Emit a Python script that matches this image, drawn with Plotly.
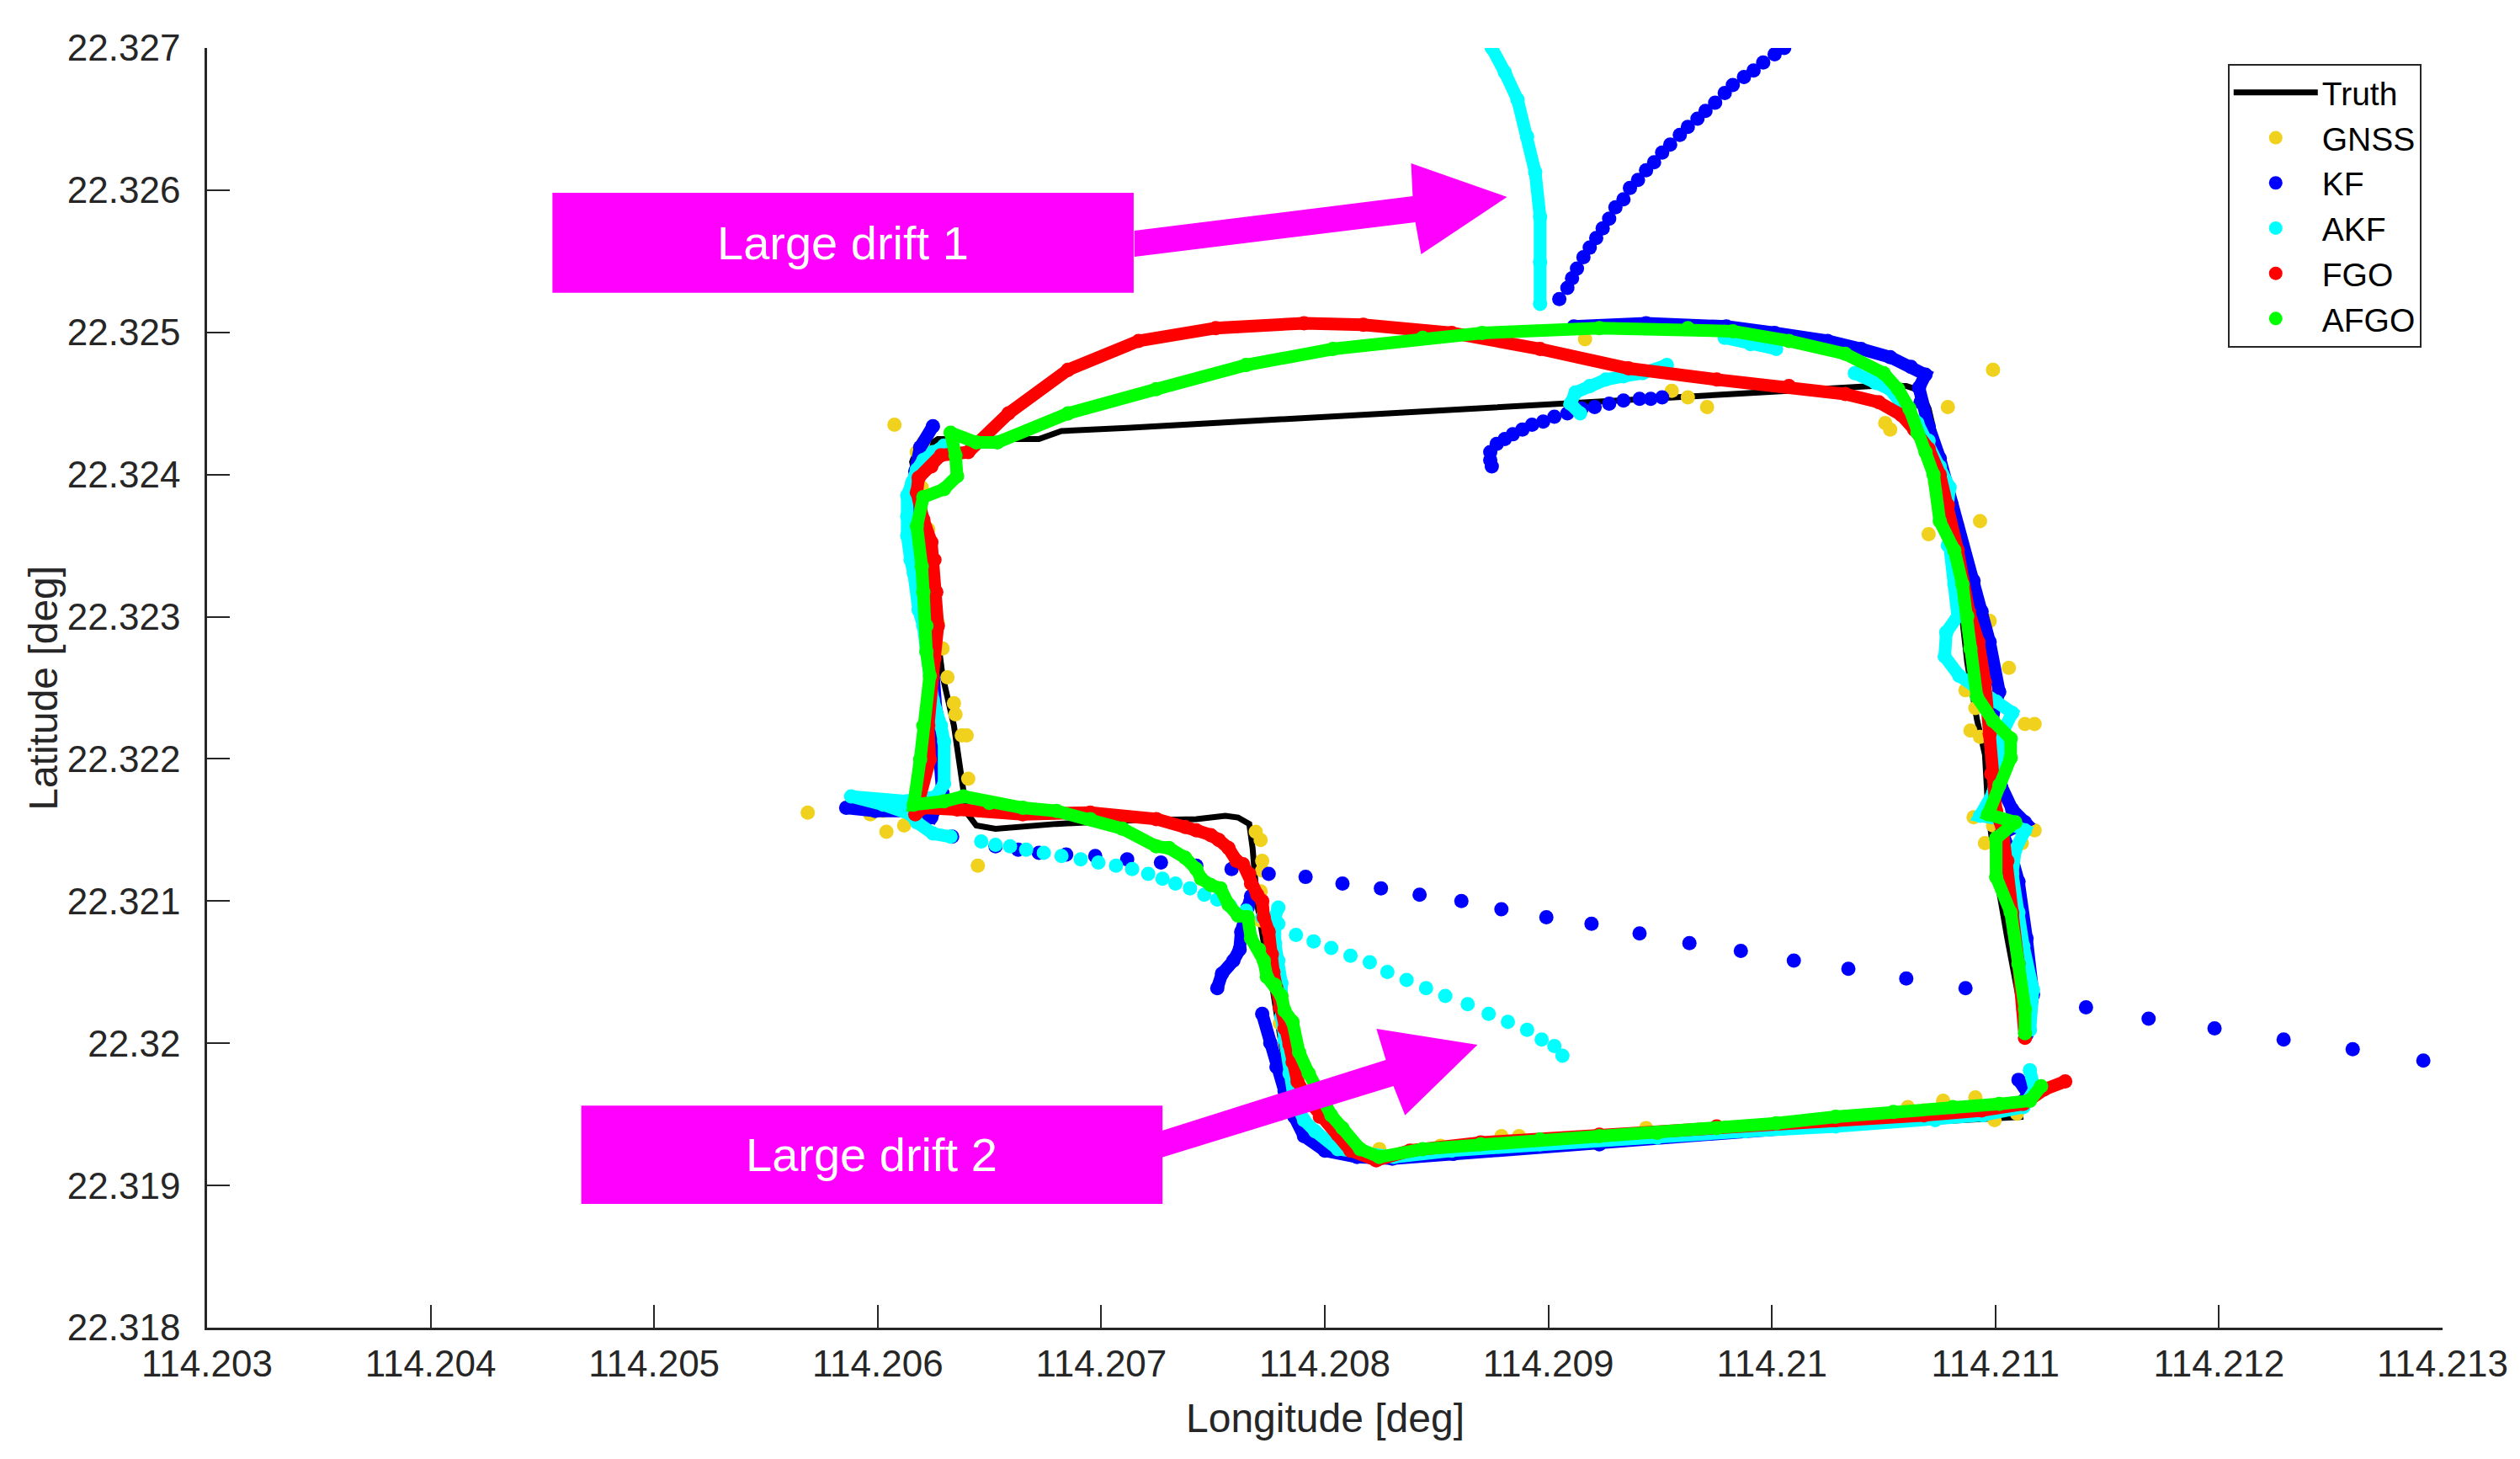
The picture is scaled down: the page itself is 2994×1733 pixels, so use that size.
import plotly.graph_objects as go

FONT = "Liberation Sans, Arial, Helvetica, sans-serif"
AXIS_C = "#262626"

lon_ticks = [114.203, 114.204, 114.205, 114.206, 114.207, 114.208, 114.209, 114.210, 114.211, 114.212, 114.213]
lon_tick_labels = ["114.203", "114.204", "114.205", "114.206", "114.207", "114.208", "114.209", "114.21", "114.211", "114.212", "114.213"]
lat_ticks = [22.318, 22.319, 22.320, 22.321, 22.322, 22.323, 22.324, 22.325, 22.326, 22.327]
lat_tick_labels = ["22.318", "22.319", "22.32", "22.321", "22.322", "22.323", "22.324", "22.325", "22.326", "22.327"]

# (lon, lat)
truth_path = [
    (114.211125, 22.319483), (114.210730, 22.319449), (114.210011, 22.319403), (114.209228, 22.319313),
    (114.208568, 22.319234), (114.208244, 22.319211), (114.208036, 22.319245), (114.207907, 22.319324),
    (114.207864, 22.319483), (114.207806, 22.319992), (114.207763, 22.320422), (114.207727, 22.320705),
    (114.207698, 22.320977), (114.207677, 22.321373), (114.207662, 22.321543), (114.207612, 22.321588),
    (114.207555, 22.321600), (114.207425, 22.321577), (114.207095, 22.321566), (114.206800, 22.321543),
    (114.206527, 22.321509), (114.206441, 22.321532), (114.206398, 22.321622), (114.206384, 22.321770),
    (114.206341, 22.322234), (114.206290, 22.322585), (114.206261, 22.322936), (114.206233, 22.323309),
    (114.206204, 22.323638), (114.206175, 22.323921), (114.206154, 22.324090), (114.206168, 22.324147),
    (114.206269, 22.324249), (114.206455, 22.324249), (114.206721, 22.324249), (114.206822, 22.324306),
    (114.207116, 22.324328), (114.209825, 22.324566), (114.210198, 22.324600), (114.210450, 22.324623),
    (114.210601, 22.324623), (114.210665, 22.324589), (114.210701, 22.324464), (114.210716, 22.324362),
    (114.210751, 22.324056), (114.210802, 22.323762), (114.210830, 22.323468), (114.210838, 22.323173),
    (114.210852, 22.322981), (114.210874, 22.322675), (114.210917, 22.322279), (114.210953, 22.322030),
    (114.210967, 22.321645), (114.211003, 22.321192), (114.211053, 22.320739), (114.211103, 22.320287),
    (114.211132, 22.320083),
]

gnss_fixes = [
    (114.205687, 22.321622), (114.205967, 22.321611), (114.206024, 22.321634), (114.206039, 22.321487),
    (114.206118, 22.321532), (114.206448, 22.321249), (114.206075, 22.324351), (114.206175, 22.324158),
    (114.206204, 22.324226), (114.206197, 22.323909), (114.206226, 22.323615), (114.206233, 22.323423),
    (114.206254, 22.323151), (114.206269, 22.322958), (114.206290, 22.322777), (114.206312, 22.322574),
    (114.206341, 22.322392), (114.206348, 22.322313), (114.206376, 22.322166), (114.206398, 22.322166),
    (114.206405, 22.321860), (114.206269, 22.321962), (114.207691, 22.321487), (114.207713, 22.321430),
    (114.207720, 22.321283), (114.207720, 22.321215), (114.207713, 22.321068), (114.207713, 22.320864),
    (114.207799, 22.320140), (114.208244, 22.319256), (114.208517, 22.319279), (114.208790, 22.319347),
    (114.208869, 22.319347), (114.209013, 22.319324), (114.209200, 22.319336), (114.209437, 22.319404),
    (114.210450, 22.319494), (114.210608, 22.319551), (114.210680, 22.319528), (114.210766, 22.319596),
    (114.210910, 22.319619), (114.210996, 22.319460), (114.211096, 22.319506), (114.209164, 22.324951),
    (114.209552, 22.324589), (114.209624, 22.324543), (114.209710, 22.324475), (114.210989, 22.324736),
    (114.210787, 22.324475), (114.210507, 22.324362), (114.210529, 22.324317), (114.210672, 22.324509),
    (114.210730, 22.323943), (114.210931, 22.323672), (114.210831, 22.323638), (114.210701, 22.323581),
    (114.210974, 22.322970), (114.211060, 22.322641), (114.210866, 22.322483), (114.210910, 22.322358),
    (114.210888, 22.322200), (114.211132, 22.322245), (114.211175, 22.322245), (114.210931, 22.322155),
    (114.210902, 22.321589), (114.211175, 22.321498), (114.210953, 22.321407), (114.211118, 22.321407),
    (114.210989, 22.321532),
]

# KF
kf_east_north = [
    (114.211139, 22.320060), (114.211168, 22.320343), (114.211139, 22.320739), (114.211103, 22.321136),
    (114.211068, 22.321339), (114.211032, 22.321475), (114.211132, 22.321554), (114.211075, 22.321645),
    (114.211024, 22.321815), (114.210989, 22.322098), (114.210989, 22.322324), (114.211017, 22.322472),
    (114.210974, 22.322822), (114.210938, 22.323038), (114.210902, 22.323253), (114.210802, 22.323796),
    (114.210751, 22.324113), (114.210701, 22.324340), (114.210665, 22.324509), (114.210658, 22.324611),
    (114.210687, 22.324702), (114.210622, 22.324758), (114.210529, 22.324826), (114.210399, 22.324883),
    (114.210249, 22.324940), (114.210012, 22.324996), (114.209796, 22.325041), (114.209437, 22.325064),
    (114.209114, 22.325041),
]
kf_drift_1 = [
    (114.209049, 22.325234), (114.209085, 22.325313), (114.209106, 22.325381), (114.209128, 22.325449),
    (114.209157, 22.325528), (114.209185, 22.325596), (114.209214, 22.325664), (114.209243, 22.325732),
    (114.209272, 22.325800), (114.209300, 22.325879), (114.209336, 22.325936), (114.209365, 22.326015),
    (114.209401, 22.326072), (114.209437, 22.326140), (114.209473, 22.326196), (114.209509, 22.326264),
    (114.209545, 22.326321), (114.209588, 22.326389), (114.209624, 22.326445), (114.209667, 22.326502),
    (114.209703, 22.326558), (114.209746, 22.326615), (114.209789, 22.326683), (114.209825, 22.326740),
    (114.209875, 22.326796), (114.209918, 22.326842), (114.209961, 22.326898), (114.210012, 22.326955),
    (114.210055, 22.327000),
]
kf_reset_arc = [
    (114.209509, 22.324543), (114.209458, 22.324532), (114.209408, 22.324532), (114.209336, 22.324521),
    (114.209272, 22.324498), (114.209207, 22.324475), (114.209149, 22.324464), (114.209085, 22.324430),
    (114.209027, 22.324407), (114.208977, 22.324373), (114.208927, 22.324351), (114.208884, 22.324317),
    (114.208841, 22.324283), (114.208805, 22.324249), (114.208769, 22.324215), (114.208740, 22.324158),
    (114.208740, 22.324102), (114.208747, 22.324057),
]
kf_west = [
    (114.206247, 22.324340), (114.206190, 22.324192), (114.206168, 22.324023), (114.206190, 22.323683),
    (114.206218, 22.323230), (114.206240, 22.322777), (114.206262, 22.322324), (114.206283, 22.321985),
    (114.206290, 22.321758), (114.206240, 22.321589), (114.206132, 22.321634), (114.205989, 22.321634),
    (114.205859, 22.321656),
]
kf_drift_2 = [
    (114.206333, 22.321453), (114.206527, 22.321385), (114.206628, 22.321362), (114.206721, 22.321339),
    (114.206843, 22.321328), (114.206973, 22.321317), (114.207116, 22.321294), (114.207267, 22.321271),
    (114.207425, 22.321249), (114.207583, 22.321226), (114.207749, 22.321192), (114.207914, 22.321170),
    (114.208079, 22.321124), (114.208251, 22.321090), (114.208424, 22.321045), (114.208611, 22.321000),
    (114.208790, 22.320943), (114.208991, 22.320887), (114.209193, 22.320841), (114.209408, 22.320773),
    (114.209631, 22.320705), (114.209861, 22.320649), (114.210098, 22.320581), (114.210342, 22.320524),
    (114.210601, 22.320456), (114.210866, 22.320388), (114.211132, 22.320320), (114.211405, 22.320253),
    (114.211685, 22.320173), (114.211980, 22.320105), (114.212289, 22.320026), (114.212598, 22.319958),
    (114.212914, 22.319879),
]
kf_mid = [
    (114.207670, 22.321034), (114.207655, 22.320955), (114.207641, 22.320898), (114.207626, 22.320785),
    (114.207619, 22.320660), (114.207591, 22.320581), (114.207540, 22.320490), (114.207519, 22.320388),
]
kf_south = [
    (114.207720, 22.320207), (114.207756, 22.320003), (114.207784, 22.319834), (114.207820, 22.319664),
    (114.207864, 22.319483), (114.207907, 22.319347), (114.208000, 22.319245), (114.208144, 22.319200),
    (114.208302, 22.319188), (114.208575, 22.319222), (114.209228, 22.319290), (114.209753, 22.319370),
    (114.210285, 22.319426), (114.210680, 22.319471), (114.210938, 22.319505), (114.211103, 22.319562),
    (114.211147, 22.319641), (114.211103, 22.319743),
]

# AKF
akf_east = [
    (114.211154, 22.320094), (114.211168, 22.320377), (114.211125, 22.320683), (114.211103, 22.320921),
    (114.211075, 22.321192), (114.211089, 22.321362), (114.211132, 22.321498), (114.211017, 22.321577),
    (114.210931, 22.321600), (114.210989, 22.321758), (114.211017, 22.321985), (114.211032, 22.322188),
    (114.211075, 22.322324), (114.211003, 22.322404), (114.210931, 22.322494), (114.210838, 22.322585),
    (114.210773, 22.322721), (114.210780, 22.322890), (114.210831, 22.323004), (114.210816, 22.323230),
    (114.210787, 22.323502), (114.210780, 22.323706), (114.210795, 22.323909), (114.210751, 22.324056),
    (114.210701, 22.324238), (114.210651, 22.324362), (114.210579, 22.324498), (114.210529, 22.324600),
    (114.210464, 22.324645), (114.210371, 22.324713),
]
akf_north = [(114.210019, 22.324883), (114.209904, 22.324917), (114.209789, 22.324962)]
akf_drift_1 = [
    (114.208963, 22.325200), (114.208963, 22.325494), (114.208963, 22.325811), (114.208941, 22.326128),
    (114.208905, 22.326377), (114.208862, 22.326638), (114.208805, 22.326830), (114.208747, 22.327000),
]
akf_reset_arc = [
    (114.209142, 22.324430), (114.209099, 22.324498), (114.209121, 22.324577), (114.209185, 22.324622),
    (114.209257, 22.324668), (114.209336, 22.324691), (114.209422, 22.324713), (114.209530, 22.324770),
]
akf_west = [
    (114.206297, 22.324204), (114.206247, 22.324158), (114.206204, 22.324102), (114.206175, 22.324034),
    (114.206154, 22.323943), (114.206132, 22.323853), (114.206132, 22.323706), (114.206132, 22.323570),
    (114.206147, 22.323400), (114.206161, 22.323309), (114.206183, 22.323049), (114.206204, 22.322936),
    (114.206218, 22.322754), (114.206247, 22.322415), (114.206283, 22.322234), (114.206297, 22.322121),
    (114.206297, 22.321826), (114.206262, 22.321736), (114.206132, 22.321702), (114.205989, 22.321713),
    (114.205881, 22.321736), (114.206024, 22.321679), (114.206147, 22.321611), (114.206175, 22.321554),
    (114.206247, 22.321475), (114.206326, 22.321453),
]
akf_drift_2 = [
    (114.206463, 22.321419), (114.206527, 22.321396), (114.206592, 22.321385), (114.206664, 22.321362),
    (114.206743, 22.321339), (114.206822, 22.321317), (114.206908, 22.321294), (114.206987, 22.321271),
    (114.207066, 22.321249), (114.207138, 22.321226), (114.207210, 22.321192), (114.207274, 22.321158),
    (114.207332, 22.321124), (114.207397, 22.321090), (114.207461, 22.321045), (114.207519, 22.321011),
    (114.207576, 22.320966), (114.207648, 22.320932), (114.207720, 22.320887), (114.207792, 22.320841),
    (114.207871, 22.320762), (114.207950, 22.320717), (114.208029, 22.320671), (114.208115, 22.320615),
    (114.208201, 22.320570), (114.208280, 22.320502), (114.208366, 22.320445), (114.208453, 22.320388),
    (114.208539, 22.320333), (114.208639, 22.320275), (114.208733, 22.320207), (114.208819, 22.320151),
    (114.208905, 22.320094), (114.208970, 22.320026), (114.209027, 22.319981), (114.209063, 22.319913),
]
akf_south = [
    (114.207792, 22.320955), (114.207777, 22.320887), (114.207777, 22.320705), (114.207792, 22.320581),
    (114.207806, 22.320422), (114.207806, 22.320185), (114.207820, 22.320026), (114.207842, 22.319788),
    (114.207864, 22.319596), (114.207907, 22.319460), (114.207957, 22.319381), (114.208058, 22.319256),
    (114.208180, 22.319222), (114.208309, 22.319200), (114.208568, 22.319245), (114.208963, 22.319290),
    (114.209487, 22.319336), (114.209882, 22.319381), (114.210285, 22.319415), (114.210730, 22.319460),
    (114.210945, 22.319494), (114.211125, 22.319551), (114.211175, 22.319675), (114.211154, 22.319811),
]

# FGO
fgo_path = [
    (114.211312, 22.319732), (114.211218, 22.319675), (114.211125, 22.319573), (114.210938, 22.319528),
    (114.210680, 22.319494), (114.210285, 22.319460), (114.209753, 22.319415), (114.209228, 22.319358),
    (114.208697, 22.319302), (114.208381, 22.319245), (114.208230, 22.319177), (114.208115, 22.319245),
    (114.208058, 22.319358), (114.207978, 22.319483), (114.207928, 22.319596), (114.207878, 22.319732),
    (114.207856, 22.319868), (114.207842, 22.319992), (114.207820, 22.320105), (114.207799, 22.320253),
    (114.207784, 22.320388), (114.207770, 22.320502), (114.207763, 22.320626), (114.207749, 22.320785),
    (114.207727, 22.320887), (114.207720, 22.321000), (114.207698, 22.321045), (114.207670, 22.321124),
    (114.207662, 22.321192), (114.207634, 22.321260), (114.207605, 22.321283), (114.207569, 22.321373),
    (114.207526, 22.321430), (114.207490, 22.321464), (114.207425, 22.321498), (114.207375, 22.321521),
    (114.207246, 22.321577), (114.206951, 22.321622), (114.206649, 22.321611), (114.206355, 22.321645),
    (114.206204, 22.321656), (114.206168, 22.321611), (114.206233, 22.321996), (114.206226, 22.322234),
    (114.206233, 22.322472), (114.206254, 22.322709), (114.206269, 22.322936), (114.206262, 22.323173),
    (114.206254, 22.323400), (114.206240, 22.323524), (114.206204, 22.323683), (114.206175, 22.323875),
    (114.206183, 22.323977), (114.206240, 22.324057), (114.206283, 22.324136), (114.206405, 22.324158),
    (114.206585, 22.324430), (114.206851, 22.324736), (114.207167, 22.324940), (114.207512, 22.325030),
    (114.207907, 22.325064), (114.208172, 22.325053), (114.208568, 22.324996), (114.208963, 22.324883),
    (114.209358, 22.324747), (114.209753, 22.324668), (114.210076, 22.324622), (114.210328, 22.324566),
    (114.210478, 22.324509), (114.210579, 22.324419), (114.210637, 22.324317), (114.210701, 22.324181),
    (114.210751, 22.324000), (114.210787, 22.323785), (114.210831, 22.323468), (114.210881, 22.323038),
    (114.210924, 22.322822), (114.210953, 22.322539), (114.210974, 22.322177), (114.210981, 22.321894),
    (114.211003, 22.321634), (114.211032, 22.321498), (114.211053, 22.321283), (114.211075, 22.320921),
    (114.211103, 22.320558), (114.211125, 22.320241), (114.211132, 22.320038),
]

# AFGO
afgo_path = [
    (114.211204, 22.319698), (114.211154, 22.319596), (114.211017, 22.319573), (114.210809, 22.319551),
    (114.210543, 22.319517), (114.210285, 22.319483), (114.210019, 22.319437), (114.209753, 22.319403),
    (114.209487, 22.319370), (114.209228, 22.319347), (114.208963, 22.319324), (114.208697, 22.319290),
    (114.208438, 22.319256), (114.208244, 22.319200), (114.208158, 22.319256), (114.208079, 22.319403),
    (114.208029, 22.319494), (114.207928, 22.319788), (114.207885, 22.319936), (114.207856, 22.320151),
    (114.207820, 22.320230), (114.207806, 22.320333), (114.207777, 22.320411), (114.207741, 22.320468),
    (114.207727, 22.320581), (114.207706, 22.320660), (114.207670, 22.320739), (114.207655, 22.320887),
    (114.207612, 22.320898), (114.207569, 22.320977), (114.207533, 22.321090), (114.207490, 22.321113),
    (114.207447, 22.321158), (114.207425, 22.321226), (114.207375, 22.321305), (114.207303, 22.321373),
    (114.207246, 22.321385), (114.207095, 22.321509), (114.206951, 22.321577), (114.206800, 22.321634),
    (114.206649, 22.321656), (114.206499, 22.321690), (114.206384, 22.321736), (114.206297, 22.321702),
    (114.206161, 22.321679), (114.206190, 22.321996), (114.206204, 22.322234), (114.206233, 22.322585),
    (114.206218, 22.322754), (114.206218, 22.322936), (114.206204, 22.323173), (114.206197, 22.323355),
    (114.206175, 22.323638), (114.206204, 22.323841), (114.206297, 22.323898), (114.206355, 22.323989),
    (114.206348, 22.324136), (114.206326, 22.324294), (114.206441, 22.324226), (114.206535, 22.324226),
    (114.206851, 22.324430), (114.207246, 22.324600), (114.207648, 22.324770), (114.208036, 22.324883),
    (114.208438, 22.324962), (114.208704, 22.324996), (114.209228, 22.325030), (114.209624, 22.325030),
    (114.209825, 22.325008), (114.210076, 22.324940), (114.210328, 22.324849), (114.210500, 22.324713),
    (114.210565, 22.324600), (114.210615, 22.324464), (114.210651, 22.324294), (114.210687, 22.324158),
    (114.210723, 22.324000), (114.210751, 22.323672), (114.210816, 22.323468), (114.210852, 22.323230),
    (114.210874, 22.323004), (114.210888, 22.322777), (114.210917, 22.322438), (114.210989, 22.322268),
    (114.211068, 22.322143), (114.211068, 22.322007), (114.211017, 22.321815), (114.210967, 22.321611),
    (114.211089, 22.321554), (114.211003, 22.321441), (114.211003, 22.321170), (114.211068, 22.320921),
    (114.211103, 22.320558), (114.211132, 22.320241), (114.211132, 22.320071),
]

drift_notes = ["Large drift 1", "Large drift 2"]


def join(segments):
    xs, ys = [], []
    for seg in segments:
        if xs:
            xs.append(None)
            ys.append(None)
        xs += [p[0] for p in seg]
        ys += [p[1] for p in seg]
    return xs, ys


DOT = 17
TRAIL = 15

fig = go.Figure()

fig.add_trace(go.Scatter(
    x=[p[0] for p in truth_path], y=[p[1] for p in truth_path],
    mode="lines", line=dict(color="black", width=7), name="Truth"))

fig.add_trace(go.Scatter(
    x=[p[0] for p in gnss_fixes], y=[p[1] for p in gnss_fixes],
    mode="markers", marker=dict(color="#F0D21E", size=DOT, line=dict(width=0)), name="GNSS"))

series = [
    ("KF", "#0000FF", [kf_east_north, kf_west, kf_mid, kf_south], [kf_drift_1, kf_reset_arc, kf_drift_2]),
    ("AKF", "#00FFFF", [akf_east, akf_north, akf_drift_1, akf_reset_arc, akf_west, akf_south], [akf_drift_2]),
    ("FGO", "#FF0000", [fgo_path], []),
    ("AFGO", "#00FF00", [afgo_path], []),
]

for name, color, dense, sparse in series:
    x, y = join(dense)
    fig.add_trace(go.Scatter(x=x, y=y, mode="lines", line=dict(color=color, width=TRAIL),
                             connectgaps=False, showlegend=False, hoverinfo="skip"))
    x, y = join(dense + sparse)
    fig.add_trace(go.Scatter(x=x, y=y, mode="markers", name=name,
                             marker=dict(color=color, size=DOT, line=dict(width=0))))

# magenta call-out boxes and arrows (data coordinates)
boxes = [
    (114.204545, 22.325279, 114.207145, 22.325981),
    (114.204674, 22.318871, 114.207274, 22.319562),
]
arrows = [
    [(114.207148, 22.325715), (114.208393, 22.325958), (114.208386, 22.326189), (114.208815, 22.325952),
     (114.208431, 22.325549), (114.208405, 22.325774), (114.207148, 22.325532)],
    [(114.207272, 22.319386), (114.208273, 22.319883), (114.208231, 22.320102), (114.208683, 22.319990),
     (114.208359, 22.319493), (114.208307, 22.319700), (114.207272, 22.319197)],
]
shapes = []
for x0, y0, x1, y1 in boxes:
    shapes.append(dict(type="rect", xref="x", yref="y", x0=x0, y0=y0, x1=x1, y1=y1,
                       fillcolor="#FF00FF", line=dict(width=0), layer="above"))
for pts in arrows:
    path = "M " + " L ".join(f"{a},{b}" for a, b in pts) + " Z"
    shapes.append(dict(type="path", xref="x", yref="y", path=path,
                       fillcolor="#FF00FF", line=dict(width=0), layer="above"))

annotations = []
for (x0, y0, x1, y1), txt in zip(boxes, drift_notes):
    annotations.append(dict(x=(x0 + x1) / 2, y=(y0 + y1) / 2, xref="x", yref="y", text=txt,
                            showarrow=False, font=dict(family=FONT, size=56, color="white")))
annotations.append(dict(x=0.5, y=-0.071, xref="paper", yref="paper", text="Longitude [deg]",
                        showarrow=False, yanchor="middle",
                        font=dict(family=FONT, size=48, color=AXIS_C)))
annotations.append(dict(x=-0.0735, y=0.5, xref="paper", yref="paper", text="Latitude [deg]",
                        showarrow=False, textangle=-90, xanchor="center",
                        font=dict(family=FONT, size=48, color=AXIS_C)))

axis_common = dict(ticks="inside", ticklen=27, tickwidth=1.5, tickcolor=AXIS_C,
                   showline=True, linecolor=AXIS_C, linewidth=2.5, mirror=False,
                   showgrid=False, zeroline=False,
                   tickfont=dict(family=FONT, size=44, color=AXIS_C))

fig.update_layout(
    width=2994, height=1733,
    margin=dict(l=238, r=100, t=49, b=164),
    paper_bgcolor="white", plot_bgcolor="white",
    xaxis=dict(range=[114.203, 114.213], tickvals=lon_ticks, ticktext=lon_tick_labels,
               ticklabelstandoff=2, **axis_common),
    yaxis=dict(range=[22.318, 22.327], tickvals=lat_ticks, ticktext=lat_tick_labels,
               ticklabelstandoff=20, **axis_common),
    legend=dict(x=0.9905, y=0.9875, xanchor="right", yanchor="top", bgcolor="white",
                bordercolor=AXIS_C, borderwidth=2, itemwidth=100,
                font=dict(family=FONT, size=39, color="black")),
    shapes=shapes, annotations=annotations,
    showlegend=True,
)

fig.write_html("out.html")
